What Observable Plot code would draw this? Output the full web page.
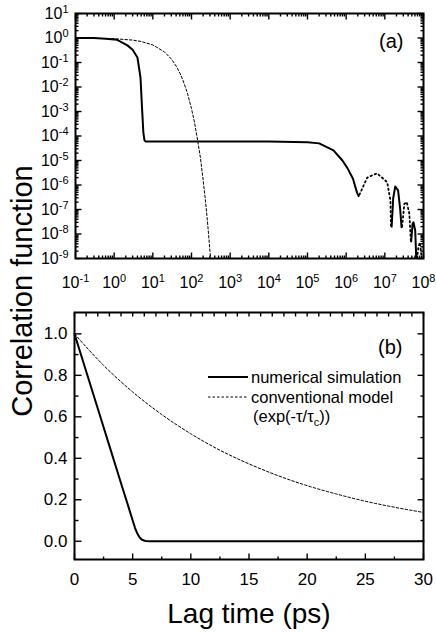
<!DOCTYPE html>
<html><head><meta charset="utf-8">
<script src="https://cdn.jsdelivr.net/npm/d3@7"></script>
<script src="https://cdn.jsdelivr.net/npm/@observablehq/plot@0.6"></script>
<style>
body{margin:0;background:#fff;}
#wrap{position:relative;width:436px;height:632px;font-family:"Liberation Sans",Arial,Helvetica,sans-serif;background:#fff;}
#wrap svg{display:block;}
#overlay{position:absolute;left:0;top:0;pointer-events:none;}
</style></head><body>
<div id="wrap"><div id="panelA"></div><div id="panelB"></div></div>
<script>
// ---------- data ----------
// (a) log-log panel: numerical simulation |C(t)|, solid = positive parts, dotted = negative parts
const simLagA1 = [0.1, 0.3, 0.6, 1.2, 2.2, 3, 4, 4.8, 5.3, 5.7, 6.1, 6.5, 10, 100, 1e3, 1e4, 1e5, 2e5, 4.7e5, 8e5, 1.07e6, 1.5e6, 1.9e6, 2.1e6];
const simCorrA1 = [1.0, 0.99, 0.93, 0.84, 0.5, 0.33, 0.16, 0.024, 1.1e-3, 1.3e-4, 6.5e-5, 6e-5, 6e-5, 6e-5, 6e-5, 5.9e-5, 5.6e-5, 5e-5, 2.6e-5, 1e-5, 5e-6, 1.8e-6, 5e-7, 3.5e-7];
const simLagA2 = [1.5e7, 1.65e7, 1.86e7, 2.2e7, 2.5e7, 2.7e7];
const simCorrA2 = [2e-8, 3e-7, 8.7e-7, 6e-7, 1e-7, 1.9e-8];
const simLagA3 = [4.8e7, 5.2e7, 5.5e7, 6.1e7, 6.5e7];
const simCorrA3 = [5e-9, 2.5e-8, 3e-8, 1.4e-8, 1e-9];
const negLagA1 = [2.2e6, 3.5e6, 6.3e6, 1.15e7, 1.4e7, 1.44e7];
const negCorrA1 = [4e-7, 2e-6, 3e-6, 1.3e-6, 2.3e-7, 2.2e-8];
const negLagA2 = [2.8e7, 3.2e7, 3.7e7, 4.3e7, 4.7e7];
const negCorrA2 = [2e-8, 1.7e-7, 2e-7, 6.7e-8, 5.4e-9];
const negLagA3 = [6.8e7, 7.4e7, 8.1e7, 9e7];
const negCorrA3 = [1e-9, 3e-9, 4.5e-9, 1e-9];
// (a) conventional model
const convLagA = [0.1, 1, 3, 5, 10, 20, 30, 40, 50, 60, 70, 80, 100, 120, 150, 170, 200, 230, 250, 270, 300, 330];
const convCorrA = [0.993, 0.936, 0.82, 0.72, 0.52, 0.27, 0.14, 0.072, 0.037, 0.019, 0.0095, 5e-3, 1.3e-3, 3.5e-4, 4.5e-5, 1.3e-5, 1.6e-6, 2.2e-7, 5.8e-8, 1.5e-8, 2e-9, 3e-10];
// (b) linear panel
const simLagB = [0, 1, 2, 3, 4, 4.7, 5, 5.2, 5.4, 5.6, 5.8, 6.1, 6.5, 10, 20, 30];
const simCorrB = [1.0, 0.82, 0.64, 0.46, 0.28, 0.155, 0.1, 0.065, 0.037, 0.018, 0.007, 0.001, 0, 0, 0, 0];
const convLagB = [0, 2.5, 5, 7.5, 10, 12.5, 15, 17.5, 20, 22.5, 25, 27.5, 30];
const convCorrB = [1, 0.848, 0.72, 0.611, 0.518, 0.439, 0.373, 0.316, 0.268, 0.228, 0.193, 0.164, 0.139];
// ticks / labels
const expXA = [-1, 0, 1, 2, 3, 4, 5, 6, 7, 8];
const expYA = [-9, -8, -7, -6, -5, -4, -3, -2, -1, 0, 1];
const xTicksB = [0, 5, 10, 15, 20, 25, 30];
const yTicksB = [0.0, 0.2, 0.4, 0.6, 0.8, 1.0];
const panelLabels = ["(a)", "(b)"];
const xTitle = "Lag time (ps)";
const yTitle = "Correlation function";
const legendLabels = ["numerical simulation", "conventional model"];

// ---------- helpers ----------
const font = '"Liberation Sans", Arial, Helvetica, sans-serif';
const zip = (xs, ys, seg) => xs.map((x, i) => ({lag: x, corr: ys[i], seg}));
const pow10 = e => Number("1e" + e);
const majorsFrom = exps => exps.map(pow10);
const minorsFrom = exps => { const o = []; for (let i = 0; i < exps.length - 1; i++) for (let k = 2; k <= 9; k++) o.push(k * pow10(exps[i])); return o; };
const fmtPow = d => "10^" + Math.round(Math.log10(d));

const simSolidA = [...zip(simLagA1, simCorrA1, 1), ...zip(simLagA2, simCorrA2, 2), ...zip(simLagA3, simCorrA3, 3)];
const simDotA = [...zip(negLagA1, negCorrA1, 1), ...zip(negLagA2, negCorrA2, 2), ...zip(negLagA3, negCorrA3, 3)];
const convA = zip(convLagA, convCorrA, 0);
const simB = zip(simLagB, simCorrB, 0);
const convB = zip(convLagB, convCorrB, 0);

const xMajA = majorsFrom(expXA), xMinA = minorsFrom(expXA);
const yMajA = majorsFrom(expYA), yMinA = minorsFrom(expYA);

// inward tick marks drawn as vectors anchored on a frame side
const tickShape = {draw(context, l) { context.moveTo(0, 0); context.lineTo(0, -l); }};
const sideRotate = {bottom: 0, top: 180, left: 90, right: 270};
const tickIn = (side, ticks, len) => Plot.vector(ticks, {
  [side === "top" || side === "bottom" ? "x" : "y"]: d => d,
  frameAnchor: side, length: len, rotate: sideRotate[side], anchor: "start",
  shape: tickShape, stroke: "black", strokeWidth: 1.4, strokeLinecap: "butt"
});

// ---------- panel (a) ----------
const svgA = Plot.plot({
  width: 436, height: 300,
  marginLeft: 75, marginRight: 13, marginTop: 13, marginBottom: 42,
  style: {fontFamily: font, color: "black", background: "white", overflow: "visible"},
  x: {type: "log", domain: [0.1, 1e8]},
  y: {type: "log", domain: [1e-9, 10]},
  marks: [
    Plot.line(convA, {x: "lag", y: "corr", stroke: "black", strokeWidth: 1, strokeDasharray: "2.5,2", clip: true}),
    Plot.line(simSolidA, {x: "lag", y: "corr", z: "seg", stroke: "black", strokeWidth: 2, clip: true}),
    Plot.line(simDotA, {x: "lag", y: "corr", z: "seg", stroke: "black", strokeWidth: 1.8, strokeDasharray: "1.5,3", clip: true}),
    Plot.axisX({anchor: "bottom", ticks: xMajA, tickSize: 0, tickPadding: 18, tickFormat: fmtPow, fontSize: 16, label: null}),
    Plot.axisY({anchor: "left", ticks: yMajA, tickSize: 0, tickPadding: 7, tickFormat: fmtPow, fontSize: 16, label: null}),
    tickIn("bottom", xMajA, 6), tickIn("bottom", xMinA, 3),
    tickIn("top", xMajA, 6), tickIn("top", xMinA, 3),
    tickIn("left", yMajA, 6), tickIn("left", yMinA, 3),
    tickIn("right", yMajA, 6), tickIn("right", yMinA, 3),
    Plot.frame({stroke: "black", strokeWidth: 2}),
    Plot.text([panelLabels[0]], {text: d => d, frameAnchor: "top-right", dx: -20, dy: 28, fontSize: 20, textAnchor: "end", lineAnchor: "middle"})
  ]
});

// ---------- panel (b) ----------
const xMinB = [], yMinB = [], xTopB = [];
for (let i = 0; i < xTicksB.length - 1; i++) xMinB.push((xTicksB[i] + xTicksB[i + 1]) / 2);
for (let i = 0; i < yTicksB.length - 1; i++) yMinB.push(Math.round((yTicksB[i] + yTicksB[i + 1]) * 50) / 100);
for (let v = xTicksB[0]; v <= xTicksB[xTicksB.length - 1]; v++) xTopB.push(v);

const svgB = Plot.plot({
  width: 436, height: 332,
  marginLeft: 74, marginRight: 13, marginTop: 12, marginBottom: 73,
  style: {fontFamily: font, color: "black", background: "white", overflow: "visible"},
  x: {domain: [0, 30]},
  y: {domain: [-0.088, 1.103]},
  marks: [
    Plot.line(convB, {x: "lag", y: "corr", stroke: "black", strokeWidth: 1, strokeDasharray: "2.5,2", curve: "monotone-x"}),
    Plot.line(simB, {x: "lag", y: "corr", stroke: "black", strokeWidth: 2}),
    Plot.axisX({anchor: "bottom", ticks: xTicksB, tickSize: 0, tickPadding: 13, tickFormat: d => String(d), fontSize: 17, label: null}),
    Plot.axisY({anchor: "left", ticks: yTicksB, tickSize: 0, tickPadding: 7, tickFormat: d3.format(".1f"), fontSize: 17, label: null}),
    tickIn("bottom", xTicksB, 6), tickIn("bottom", xMinB, 3),
    tickIn("top", xTopB, 4),
    tickIn("left", yTicksB, 7), tickIn("left", yMinB, 4),
    tickIn("right", yTicksB, 6), tickIn("right", yMinB, 3),
    Plot.frame({stroke: "black", strokeWidth: 2}),
    Plot.text([panelLabels[1]], {text: d => d, frameAnchor: "top-right", dx: -21, dy: 35, fontSize: 20, textAnchor: "end", lineAnchor: "middle"}),
    Plot.text([xTitle], {text: d => d, frameAnchor: "bottom", dy: 63, fontSize: 28, lineAnchor: "bottom"})
  ]
});

// superscript exponents in "10^n" labels
const NS = "http://www.w3.org/2000/svg";
function superscripts(svg) {
  svg.querySelectorAll("text").forEach(t => {
    const m = (t.textContent || "").match(/^10\^(-?\d+)$/);
    if (!m) return;
    while (t.firstChild) t.removeChild(t.firstChild);
    const a = document.createElementNS(NS, "tspan"); a.textContent = "10";
    const b = document.createElementNS(NS, "tspan"); b.textContent = m[1];
    b.setAttribute("dy", "-6"); b.setAttribute("font-size", "11");
    t.append(a, b);
  });
}
superscripts(svgA);

document.getElementById("panelA").append(svgA);
document.getElementById("panelB").append(svgB);

// overlay: shared y title and legend
const ov = d3.select("#wrap").append("svg").attr("id", "overlay").attr("width", 436).attr("height", 632)
  .style("font-family", font);
ov.append("text").attr("transform", "translate(32,291) rotate(-90)").attr("text-anchor", "middle")
  .attr("font-size", 29).attr("fill", "black").text(yTitle);
const lg = ov.append("g").attr("font-size", 16.5).attr("fill", "black");
const rowsY = [377, 397];
const dashes = [null, "2.5,2"];
const widths = [2, 1];
legendLabels.forEach((lab, i) => {
  lg.append("line").attr("x1", 208).attr("x2", 248).attr("y1", rowsY[i]).attr("y2", rowsY[i])
    .attr("stroke", "black").attr("stroke-width", widths[i]).attr("stroke-dasharray", dashes[i]);
  lg.append("text").attr("x", 251).attr("y", rowsY[i]).attr("dy", "0.35em").text(lab);
});
const f = lg.append("text").attr("x", 253).attr("y", 416).attr("dy", "0.35em");
f.append("tspan").text("(exp(-τ/τ");
f.append("tspan").attr("font-size", 11).attr("dy", 4).text("c");
f.append("tspan").attr("dy", -4).text("))");
</script>
</body></html>
